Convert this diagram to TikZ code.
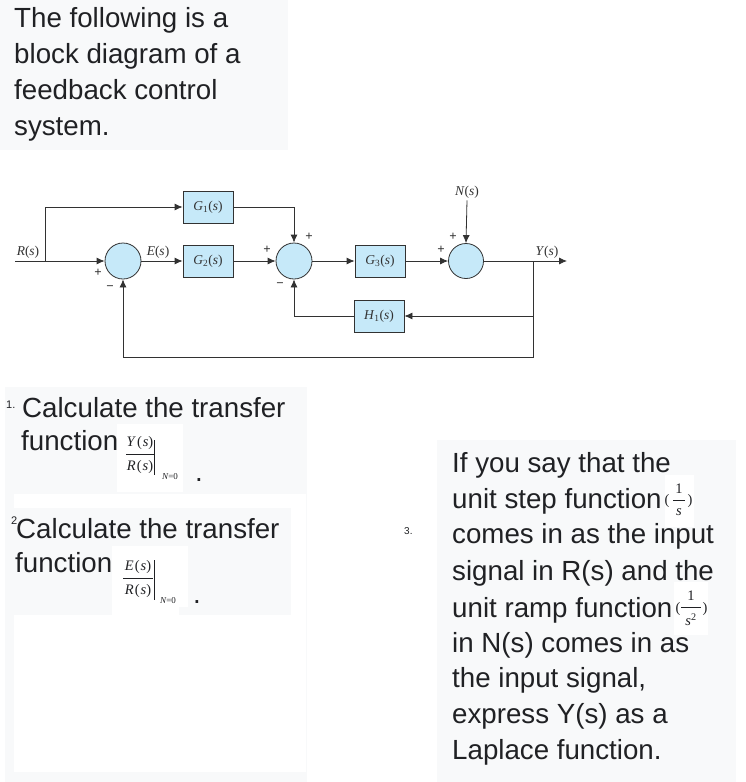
\documentclass[tikz,border=0pt]{standalone}
\usepackage{fontspec}
\setmainfont{Liberation Sans}
\newfontfamily\tnr{Liberation Serif}
\usetikzlibrary{arrows.meta}
\definecolor{panel}{RGB}{248,249,250}
\definecolor{txt}{RGB}{32,33,36}
\definecolor{blk}{RGB}{198,233,249}
\definecolor{ln}{RGB}{50,50,50}
\newcommand\bigtxt{\fontsize{27.7}{36}\selectfont}
\begin{document}
\begin{tikzpicture}[x=1pt,y=-1pt,
  body/.style={anchor=base west,inner sep=0,text=txt,font=\bigtxt},
  num/.style={anchor=base west,inner sep=0,text=txt,font=\fontsize{11}{11}\selectfont},
  dg/.style={inner sep=0,text=ln,font=\tnr\fontsize{13.5}{13.5}\selectfont},
  fr/.style={inner sep=0,text=txt,font=\tnr\fontsize{14.5}{14.5}\selectfont},
  sub/.style={inner sep=0,text=txt,font=\tnr\fontsize{9}{9}\selectfont},
  sgn/.style={inner sep=0,text=ln,font=\tnr\bfseries\fontsize{13}{13}\selectfont},
  blockbox/.style={draw=ln,fill=blk,line width=0.8pt,minimum width=50pt,minimum height=32pt,inner sep=0,text=ln,font=\tnr\fontsize{13.5}{13.5}\selectfont},
  sumc/.style={circle,draw=ln,fill=blk,line width=0.8pt,minimum size=36pt,inner sep=0},
  wire/.style={draw=ln,line width=0.8pt},
  arr/.style={wire,-{Latex[length=8pt,width=7pt]}},
  fbar/.style={draw=txt,line width=0.7pt}
]
\useasboundingbox (0,0) rectangle (746,782);
\fill[white] (0,0) rectangle (746,782);
% panels
\fill[panel] (0,0) rectangle (288,150);
\fill[panel] (5,387) rectangle (307,782);
\fill[white] (14,494) rectangle (306,772);
\fill[panel] (14,508) rectangle (291,615);
\fill[panel] (437,440) rectangle (736,782);
\fill[white] (117,424) rectangle (183,492);
\fill[white] (112,546) rectangle (188,607);
\fill[white] (112,607) rectangle (179,615);
\fill[white] (665,475) rectangle (694,527);
\fill[white] (674,582) rectangle (708,635);

% top text
\node[body] (t1) at (14,27) {The following is a};
\node[body] (t2) at (14,63) {block diagram of a};
\node[body] (t3) at (14,99) {feedback control};
\node[body] (t4) at (14,135) {system.};

% block diagram
\node[sumc] (s1) at (123,261) {};
\node[sumc] (s2) at (294,261) {};
\node[sumc,minimum size=35pt] (s3) at (466,261) {};
\node[blockbox] (G1) at (208,207) {\textit{G}\textsubscript{1}(\textit{s})};
\node[blockbox] (G2) at (208,261) {\textit{G}\textsubscript{2}(\textit{s})};
\node[blockbox] (G3) at (380,261) {\textit{G}\textsubscript{3}(\textit{s})};
\node[blockbox] (H1) at (379,316) {\textit{H}\textsubscript{1}(\textit{s})};
\coordinate (rin) at (15,261);
\coordinate (rb) at (45,261);
\coordinate (yb) at (533,261);
\coordinate (yout) at (567,261);
\coordinate (fbc) at (533,357);
\node[dg] (rl) at (28,252) {\textit{R}(\textit{s})};
\node[dg] (el) at (158,252) {\textit{E}(\textit{s})};
\node[dg] (nl) at (467,192) {\textit{N}(\textit{s})};
\node[dg] (yl) at (547,252) {\textit{Y}(\textit{s})};

\draw[arr] (rin) -- (s1.west);
\draw[arr] (rb) |- (G1.west);
\draw[arr] (s1.east) -- (G2.west);
\draw[arr] (G2.east) -- (s2.west);
\draw[arr] (G1.east) -| (s2.north);
\draw[arr] (s2.east) -- (G3.west);
\draw[arr] (G3.east) -- (s3.west);
\draw[arr] (nl.south) ++(0,2) -- (s3.north);
\draw[arr] (s3.east) -- (yout);
\draw[arr] (yb) |- (H1.east);
\draw[arr] (yb) -- (fbc) -| (s1.south);
\draw[arr] (H1.west) -| (s2.south);

\node[sgn] (p1) at (98,273) {+};
\node[sgn] (m1) at (110,288) {\textminus};
\node[sgn] (p2) at (309,237) {+};
\node[sgn] (p3) at (267,250) {+};
\node[sgn] (m2) at (280,285) {\textminus};
\node[sgn] (p4) at (453,237) {+};
\node[sgn] (p5) at (441,250) {+};

% question 1
\node[num] (n1) at (6,408) {1.};
\node[body] (q1a) at (22,417) {Calculate the transfer};
\node[body] (q1b) at (21,450) {function};
\node[fr] (q1n) at (140,443) {\textit{Y}\kern1pt(\kern1pt\textit{s})};
\node[fr] (q1d) at (140,467) {\textit{R}\kern1pt(\kern1pt\textit{s})};
\draw[fbar] (126,454) -- (154,454);
\draw[fbar] (154,440) -- (154,475);
\node[sub] (q1s) at (170,477) {\textit{N}=0};
\node[body] (q1p) at (195,481) {.};

% question 2
\node[num] (n2) at (11,524) {2};
\node[body] (q2a) at (16,538) {Calculate the transfer};
\node[body] (q2b) at (15,572) {function};
\node[fr] (q2n) at (138,567) {\textit{E}\kern1pt(\kern1pt\textit{s})};
\node[fr] (q2d) at (138,591) {\textit{R}\kern1pt(\kern1pt\textit{s})};
\draw[fbar] (123,578) -- (153,578);
\draw[fbar] (154,560) -- (154,600);
\node[sub] (q2s) at (168,601) {\textit{N}=0};
\node[body] (q2p) at (193,603) {.};

% question 3
\node[num,font=\fontsize{10}{10}\selectfont] (n3) at (404,534) {3.};
\node[body] (r1) at (452,472) {If you say that the};
\node[body] (r2) at (452,508) {unit step function};
\node[body] (r3) at (452,543) {comes in as the input};
\node[body] (r4) at (452,580) {signal in R(s) and the};
\node[body] (r5) at (452,617) {unit ramp function};
\node[body] (r6) at (452,652) {in N(s) comes in as};
\node[body] (r7) at (452,687) {the input signal,};
\node[body] (r8) at (452,723) {express Y(s) as a};
\node[body] (r9) at (452,759) {Laplace function.};
% 1/s
\node[fr] (a1) at (667,501) {(};
\node[fr] (a2) at (679,489) {1};
\draw[fbar] (673,500) -- (685,500);
\node[fr] (a3) at (679,512) {\textit{s}};
\node[fr] (a4) at (690,501) {)};
% 1/s^2
\node[fr] (b1) at (678,609) {(};
\node[fr] (b2) at (691,596) {1};
\draw[fbar] (681,607) -- (701,607);
\node[fr] (b3) at (691,620) {\textit{s}\textsuperscript{2}};
\node[fr] (b4) at (705,609) {)};
\end{tikzpicture}
\end{document}
